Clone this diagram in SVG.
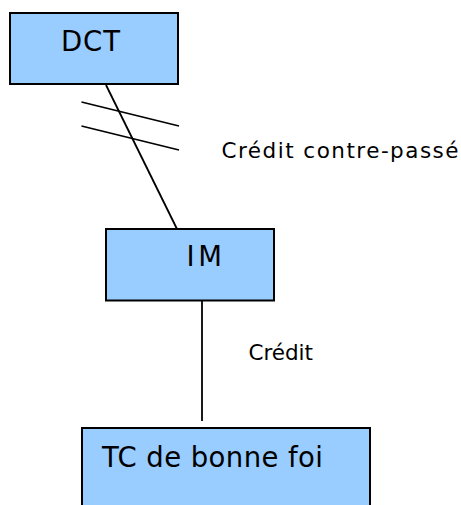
<svg xmlns="http://www.w3.org/2000/svg" width="461" height="505" viewBox="0 0 461 505">
<style>
.box{fill:#99CCFF;stroke:#000;stroke-width:2}
.lbl{font-family:"DejaVu Sans","Verdana",sans-serif;fill:#000}
.big{font-size:27.5px}
.sm{font-size:21.5px}
.ln{stroke:#000;stroke-width:1.8;fill:none}
</style>
<rect width="461" height="505" fill="#fff"/>
<g id="connectors">
<line class="ln" x1="106" y1="85" x2="177" y2="229"/>
<line class="ln" x1="81.5" y1="102" x2="179" y2="126"/>
<line class="ln" x1="81.5" y1="126" x2="179" y2="150"/>
<line class="ln" x1="202" y1="301" x2="202" y2="421"/>
<text class="lbl sm" x="221.5" y="158" textLength="237" lengthAdjust="spacing">Crédit contre-passé</text>
<text class="lbl sm" x="248.5" y="360" textLength="64.5" lengthAdjust="spacing">Crédit</text>
</g>
<g id="dct">
<rect class="box" x="10" y="13" width="168" height="71"/>
<text class="lbl big" x="61" y="51" textLength="59" lengthAdjust="spacing">DCT</text>
</g>
<g id="im">
<rect class="box" x="106" y="229" width="168" height="71.5"/>
<text class="lbl big" x="186.5" y="266" textLength="35.5" lengthAdjust="spacing">IM</text>
</g>
<g id="tc">
<rect class="box" x="82" y="428" width="288" height="90"/>
<text class="lbl big" x="102" y="466.5" textLength="221" lengthAdjust="spacing">TC de bonne foi</text>
</g>
</svg>
